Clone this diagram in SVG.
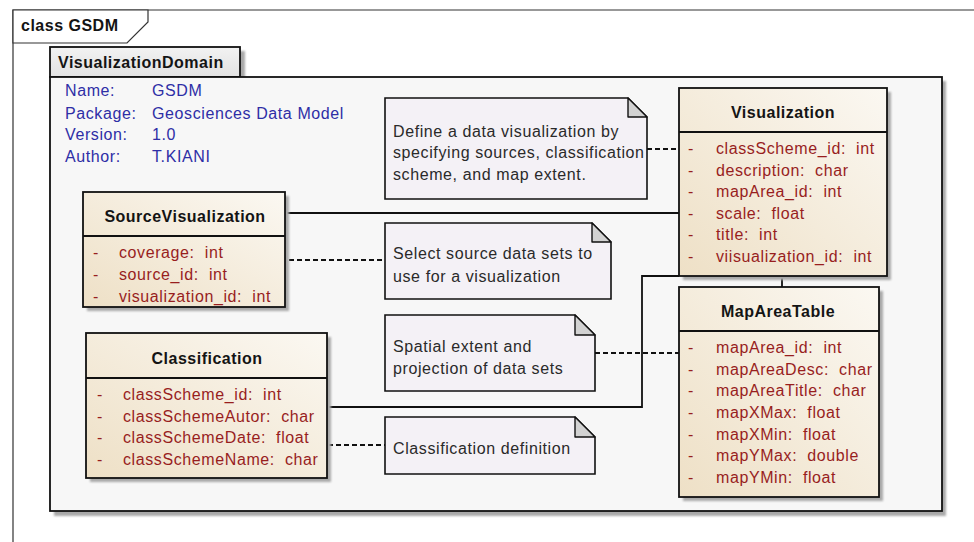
<svg xmlns="http://www.w3.org/2000/svg" width="974" height="542" viewBox="0 0 974 542">
  <defs>
    <linearGradient id="classFill" x1="0" y1="1" x2="1" y2="0">
      <stop offset="0" stop-color="#eee0c6"/>
      <stop offset="1" stop-color="#fbf8f2"/>
    </linearGradient>
    <linearGradient id="tabFill" x1="0" y1="0" x2="0" y2="1">
      <stop offset="0" stop-color="#f2f2f2"/>
      <stop offset="1" stop-color="#e2e2e2"/>
    </linearGradient>
    <filter id="soft" x="-5%" y="-5%" width="110%" height="110%">
      <feGaussianBlur stdDeviation="1"/>
    </filter>
  </defs>
  <style>
    text { font-family: "Liberation Sans", Arial, sans-serif; font-size: 16px; letter-spacing: 0.6px; }
    .bold { font-weight: bold; fill: #141414; letter-spacing: 0.5px; }
    .info { fill: #2e2ea6; }
    .attr { fill: #981e1e; }
    .attr text { white-space: pre; }
    .note-text { fill: #2a2a2a; }
    .box { stroke: #111; stroke-width: 1.8; }
    .cls { fill: url(#classFill); stroke: #111; stroke-width: 1.8; }
    .shadow { fill: #a9a9a9; filter: url(#soft); }
    .note { fill: #f4f1f6; stroke: #111; stroke-width: 1.6; }
    .fold { fill: #d2d2d2; stroke: #111; stroke-width: 1.4; stroke-linejoin: round; }
    .solid { fill: none; stroke: #111; stroke-width: 1.8; }
    .dashed { fill: none; stroke: #111; stroke-width: 1.8; stroke-dasharray: 5 3; }
    .mid { text-anchor: middle; }
  </style>

  <rect width="974" height="542" fill="#ffffff"/>

  <!-- diagram frame -->
  <g id="frame">
    <path d="M13,542 V10 H980" fill="none" stroke="#333" stroke-width="1.2"/>
    <path d="M13,10 H148 V22 L127,43 H13 Z" fill="#ffffff" stroke="#333" stroke-width="1.2"/>
    <text x="21" y="31" class="bold">class GSDM</text>
  </g>

  <!-- package -->
  <g id="VisualizationDomain">
    <rect x="54" y="51" width="191" height="31" class="shadow"/>
    <rect x="54" y="81" width="892" height="435" class="shadow"/>
    <rect x="50" y="47" width="190" height="30" fill="url(#tabFill)" class="box"/>
    <rect x="50" y="77" width="892" height="434" fill="#f7f7f7" class="box"/>
    <text x="58" y="68" class="bold">VisualizationDomain</text>
    <text x="65" y="96" class="info">Name:</text>
    <text x="152" y="96" class="info">GSDM</text>
    <text x="65" y="119" class="info">Package:</text>
    <text x="152" y="119" class="info">Geosciences Data Model</text>
    <text x="65" y="140" class="info">Version:</text>
    <text x="152" y="140" class="info">1.0</text>
    <text x="65" y="162" class="info">Author:</text>
    <text x="152" y="162" class="info">T.KIANI</text>
  </g>

  <!-- connectors -->
  <g id="connectors">
    <line x1="285" y1="213" x2="679" y2="213" class="solid"/>
    <line x1="782" y1="276" x2="782" y2="287" class="solid"/>
    <path d="M327,407 H642 V276 H679" class="solid"/>
    <line x1="647" y1="149" x2="679" y2="149" class="dashed"/>
    <line x1="289" y1="260" x2="385" y2="260" class="dashed"/>
    <line x1="595" y1="353" x2="679" y2="353" class="dashed"/>
    <line x1="328" y1="445" x2="385" y2="445" class="dashed"/>
  </g>

  <!-- classes -->
  <g id="Visualization">
    <rect x="683" y="92" width="208" height="188" class="shadow"/>
    <rect x="679" y="88" width="208" height="188" class="cls"/>
    <line x1="679" y1="132" x2="887" y2="132" class="box"/>
    <text x="783" y="118" class="bold mid">Visualization</text>
    <g class="attr">
      <text x="688" y="154">-</text><text x="716" y="154">classScheme_id:  int</text>
      <text x="688" y="175.6">-</text><text x="716" y="175.6">description:  char</text>
      <text x="688" y="197.2">-</text><text x="716" y="197.2">mapArea_id:  int</text>
      <text x="688" y="218.8">-</text><text x="716" y="218.8">scale:  float</text>
      <text x="688" y="240.4">-</text><text x="716" y="240.4">title:  int</text>
      <text x="688" y="262">-</text><text x="716" y="262">viisualization_id:  int</text>
    </g>
  </g>

  <g id="MapAreaTable">
    <rect x="683" y="291" width="200" height="210" class="shadow"/>
    <rect x="679" y="287" width="200" height="210" class="cls"/>
    <line x1="679" y1="331" x2="879" y2="331" class="box"/>
    <text x="778" y="317" class="bold mid">MapAreaTable</text>
    <g class="attr">
      <text x="688" y="353">-</text><text x="716" y="353">mapArea_id:  int</text>
      <text x="688" y="374.7">-</text><text x="716" y="374.7">mapAreaDesc:  char</text>
      <text x="688" y="396.3">-</text><text x="716" y="396.3">mapAreaTitle:  char</text>
      <text x="688" y="418">-</text><text x="716" y="418">mapXMax:  float</text>
      <text x="688" y="439.7">-</text><text x="716" y="439.7">mapXMin:  float</text>
      <text x="688" y="461.3">-</text><text x="716" y="461.3">mapYMax:  double</text>
      <text x="688" y="483">-</text><text x="716" y="483">mapYMin:  float</text>
    </g>
  </g>

  <g id="SourceVisualization">
    <rect x="87" y="196" width="202" height="115" class="shadow"/>
    <rect x="83" y="192" width="202" height="115" class="cls"/>
    <line x1="83" y1="236" x2="285" y2="236" class="box"/>
    <text x="185" y="222" class="bold mid">SourceVisualization</text>
    <g class="attr">
      <text x="93" y="258">-</text><text x="119" y="258">coverage:  int</text>
      <text x="93" y="280">-</text><text x="119" y="280">source_id:  int</text>
      <text x="93" y="302">-</text><text x="119" y="302">visualization_id:  int</text>
    </g>
  </g>

  <g id="Classification">
    <rect x="90" y="337" width="241" height="145" class="shadow"/>
    <rect x="86" y="333" width="241" height="145" class="cls"/>
    <line x1="86" y1="378" x2="327" y2="378" class="box"/>
    <text x="207" y="364" class="bold mid">Classification</text>
    <g class="attr">
      <text x="97" y="400">-</text><text x="123" y="400">classScheme_id:  int</text>
      <text x="97" y="422">-</text><text x="123" y="422">classSchemeAutor:  char</text>
      <text x="97" y="443">-</text><text x="123" y="443">classSchemeDate:  float</text>
      <text x="97" y="465">-</text><text x="123" y="465">classSchemeName:  char</text>
    </g>
  </g>

  <!-- notes -->
  <g id="note-visualization">
    <path d="M385,98 H628 L647,117 V199 H385 Z" class="note"/>
    <path d="M628,98 V117 H647 Z" class="fold"/>
    <text x="393" y="137" class="note-text">Define a data visualization by</text>
    <text x="393" y="158" class="note-text">specifying sources, classification</text>
    <text x="393" y="180" class="note-text">scheme, and map extent.</text>
  </g>

  <g id="note-source">
    <path d="M385,223 H592 L611,242 V299 H385 Z" class="note"/>
    <path d="M592,223 V242 H611 Z" class="fold"/>
    <text x="393" y="259" class="note-text">Select source data sets to</text>
    <text x="393" y="282" class="note-text">use for a visualization</text>
  </g>

  <g id="note-maparea">
    <path d="M385,315 H575 L595,335 V391 H385 Z" class="note"/>
    <path d="M575,315 V335 H595 Z" class="fold"/>
    <text x="393" y="352" class="note-text">Spatial extent and</text>
    <text x="393" y="374" class="note-text">projection of data sets</text>
  </g>

  <g id="note-classification">
    <path d="M385,417 H575 L595,437 V474 H385 Z" class="note"/>
    <path d="M575,417 V437 H595 Z" class="fold"/>
    <text x="393" y="454" class="note-text">Classification definition</text>
  </g>
</svg>
